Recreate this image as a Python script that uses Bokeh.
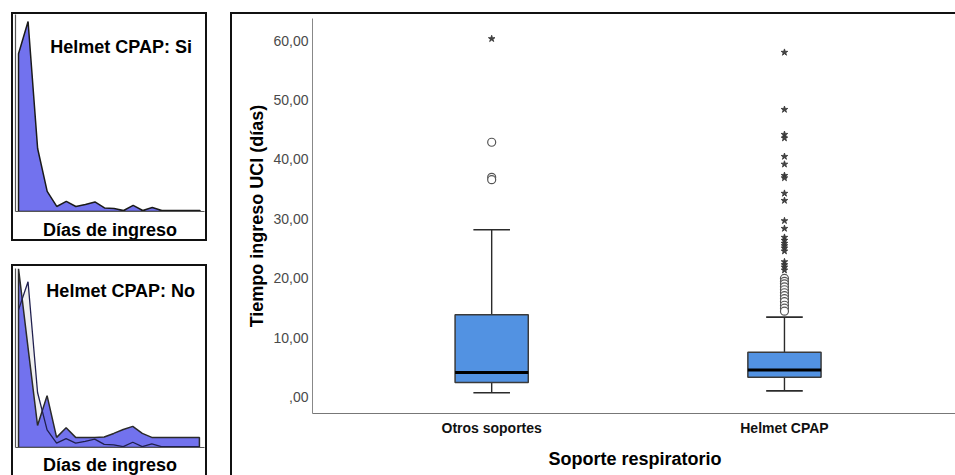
from bokeh.plotting import figure
from bokeh.layouts import row, column
from bokeh.models import Range1d, FixedTicker, Label
from bokeh.embed import file_html
from bokeh.resources import INLINE

FONT = "Liberation Sans"

# Frequency polygons of ICU stay, in 3-day bins (percentage of patients)
dias = [0, 3, 6, 9, 12, 15, 18, 21, 24, 27, 30, 33, 36, 39, 42, 45, 48, 51, 54, 57]
pct_helmet_si = [31.3, 37.7, 12.5, 4.0, 1.0, 2.0, 1.0, 1.4, 1.9, 0.7,
                 0.6, 0.2, 1.2, 0.2, 0.8, 0.2, 0.2, 0.2, 0.2, 0.2]
pct_helmet_no = [40.7, 22.7, 5.0, 11.8, 2.3, 4.5, 2.3, 2.3, 2.3, 2.4,
                 3.2, 4.1, 4.8, 3.2, 2.3, 2.3, 2.3, 2.3, 2.3, 2.3]

# Box plot summary of ICU stay (days) by respiratory support
soportes = ["Otros soportes", "Helmet CPAP"]
bigote_inf = [0.8, 1.1]
q1 = [2.5, 3.4]
mediana = [4.2, 4.6]
q3 = [13.9, 7.6]
bigote_sup = [28.2, 13.5]
atipicos = [
    [42.9, 37.0, 36.6],
    [20.0, 19.5, 19.1, 18.6, 18.1, 17.6, 17.1, 16.6, 16.1, 15.5, 15.0, 14.5],
]
extremos = [
    [60.3],
    [58.0, 48.4, 44.2, 43.6, 40.5, 39.2, 37.3, 36.9, 34.3, 33.1, 29.7, 28.4,
     26.9, 26.4, 25.9, 25.5, 25.1, 24.6, 22.8, 22.3, 21.9, 21.4],
]

y_ticks = [0, 10, 20, 30, 40, 50, 60]
y_tick_labels = [",00", "10,00", "20,00", "30,00", "40,00", "50,00", "60,00"]

AREA_BLUE = "#7272EE"
BOX_BLUE = "#5292E2"
EDGE = "2px solid #111111"


def closed(xs, ys):
    return [xs[0]] + list(xs) + [xs[-1]], [0] + list(ys) + [0]


def small_panel(height, x_end, y_end, top, right, bottom, standoff, border):
    p = figure(width=196, height=height, x_range=Range1d(-0.95, x_end),
               y_range=Range1d(0, y_end), toolbar_location=None,
               output_backend="svg", min_border_left=2, min_border_right=right,
               min_border_top=top, min_border_bottom=bottom,
               background_fill_color="white", border_fill_color="white",
               styles=border)
    p.grid.visible = False
    p.outline_line_color = None
    for ax in (p.xaxis[0], p.yaxis[0]):
        ax.ticker = FixedTicker(ticks=[])
        ax.major_tick_line_color = None
        ax.minor_tick_line_color = None
        ax.major_tick_out = 0
        ax.minor_tick_out = 0
        ax.major_label_standoff = 0
        ax.axis_line_color = "#555555"
        ax.axis_line_width = 1.2
    p.xaxis.axis_label = "Días de ingreso"
    p.xaxis.axis_label_text_font = FONT
    p.xaxis.axis_label_text_font_style = "bold"
    p.xaxis.axis_label_text_font_size = "18px"
    p.xaxis.axis_label_text_color = "black"
    p.xaxis.axis_label_standoff = standoff
    return p


def panel_title(text, x, y):
    return Label(x=x, y=y, text=text, text_align="center", text_baseline="middle",
                 text_font=FONT, text_font_style="bold", text_font_size="18px",
                 text_color="black")


# Helmet CPAP: Si
p1 = small_panel(229, 58.4, 39.1, 0, 2, 32, 8, {"border": EDGE})
p1.margin = (12, 0, 0, 11)
xs, ys = closed(dias, pct_helmet_si)
p1.patch(xs, ys, fill_color=AREA_BLUE, line_color="#1a1a1a", line_width=1.5)
p1.add_layout(panel_title("Helmet CPAP: Si", 32.2, 32.7))

# Helmet CPAP: No, with the Si polygon overlaid
p2 = small_panel(211, 58.6, 40.7, 2, 5, 28, 7,
                 {"border-top": EDGE, "border-left": EDGE, "border-right": EDGE})
p2.margin = (23, 0, 0, 11)
xs_si, ys_si = closed(dias, pct_helmet_si)
xs_no, ys_no = closed(dias, pct_helmet_no)
p2.patch(xs_si, ys_si, fill_color="#F0F0F0", line_color=None)
p2.patch(xs_no, ys_no, fill_color=AREA_BLUE, line_color="#2a2a2a", line_width=1.5)
p2.line(dias, pct_helmet_si, line_color="#20204F", line_width=1.3)
p2.add_layout(panel_title("Helmet CPAP: No", 32.2, 35.5))

# Box plot
p3 = figure(width=725, height=463, x_range=Range1d(0.388, 2.591),
            y_range=Range1d(-2.7, 63.7), toolbar_location=None,
            output_backend="svg", min_border_left=80, min_border_right=0,
            min_border_top=4, min_border_bottom=64,
            background_fill_color="white", border_fill_color="white",
            styles={"border-top": EDGE, "border-left": EDGE})
p3.margin = (12, 0, 0, 23)
p3.grid.visible = False
p3.outline_line_color = None

pos = [i + 1 for i in range(len(soportes))]
half = 0.125
WHISKER = "#2b2b2b"
p3.segment(x0=pos, y0=q3, x1=pos, y1=bigote_sup, line_color=WHISKER, line_width=1.4)
p3.segment(x0=pos, y0=q1, x1=pos, y1=bigote_inf, line_color=WHISKER, line_width=1.4)
p3.segment(x0=[x - half / 2 for x in pos], y0=bigote_sup,
           x1=[x + half / 2 for x in pos], y1=bigote_sup, line_color=WHISKER, line_width=1.6)
p3.segment(x0=[x - half / 2 for x in pos], y0=bigote_inf,
           x1=[x + half / 2 for x in pos], y1=bigote_inf, line_color=WHISKER, line_width=1.6)
p3.vbar(x=pos, width=2 * half, bottom=q1, top=q3, fill_color=BOX_BLUE,
        line_color="#3a3a3a", line_width=1.5)
p3.segment(x0=[x - half for x in pos], y0=mediana, x1=[x + half for x in pos],
           y1=mediana, line_color="black", line_width=3)

cx, cy, sx, sy = [], [], [], []
for x, vals in zip(pos, atipicos):
    cx += [x] * len(vals)
    cy += vals
for x, vals in zip(pos, extremos):
    sx += [x] * len(vals)
    sy += vals
p3.scatter(cx, cy, marker="circle", size=8, fill_color="white",
           line_color="#555555", line_width=1.2)
p3.scatter(sx, sy, marker="star", size=7, fill_color="#444444",
           line_color="#333333", line_width=0.8)

yax = p3.yaxis[0]
yax.ticker = FixedTicker(ticks=y_ticks)
yax.major_label_overrides = dict(zip(y_ticks, y_tick_labels))
yax.major_tick_line_color = None
yax.minor_tick_line_color = None
yax.major_tick_out = 0
yax.minor_tick_out = 0
yax.major_label_standoff = 4
yax.major_label_text_font = FONT
yax.major_label_text_font_size = "14px"
yax.major_label_text_color = "#4a4a4a"
yax.axis_line_color = "#888888"
yax.axis_label = "Tiempo ingreso UCI (días)"
yax.axis_label_text_font = FONT
yax.axis_label_text_font_style = "bold"
yax.axis_label_text_font_size = "18px"
yax.axis_label_text_color = "black"
yax.axis_label_standoff = 3

xax = p3.xaxis[0]
xax.ticker = FixedTicker(ticks=pos)
xax.major_label_overrides = dict(zip(pos, soportes))
xax.major_tick_line_color = None
xax.minor_tick_line_color = None
xax.major_tick_out = 0
xax.minor_tick_out = 0
xax.major_label_standoff = 6
xax.major_label_text_font = FONT
xax.major_label_text_font_style = "bold"
xax.major_label_text_font_size = "14px"
xax.major_label_text_color = "#111111"
xax.axis_line_color = "#777777"
xax.axis_label = "Soporte respiratorio"
xax.axis_label_text_font = FONT
xax.axis_label_text_font_style = "bold"
xax.axis_label_text_font_size = "18px"
xax.axis_label_text_color = "black"
xax.axis_label_standoff = 10

layout = row(column(p1, p2), p3)
open("out.html", "w").write(file_html(layout, INLINE))
